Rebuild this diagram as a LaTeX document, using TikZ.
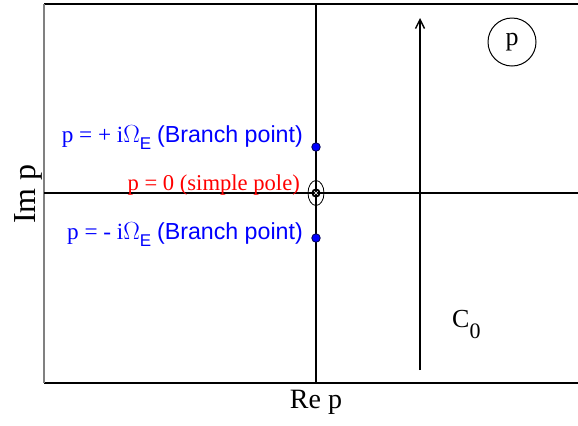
\documentclass[tikz,border=0pt]{standalone}
\usepackage{fontspec}
\setmainfont{Liberation Serif}
\newfontfamily\arialf{Liberation Sans}
\usetikzlibrary{arrows.meta,shapes.geometric,calc}
\newcommand{\subE}{\raisebox{-7bp}{\fontsize{17bp}{18bp}\selectfont\arialf E}}
\tikzset{
  axisline/.style={line width=1.3bp, black},
  framegray/.style={line width=2bp, gray},
  bluelbl/.style={text=blue, inner sep=0pt, anchor=base east, font=\fontsize{23.2bp}{26bp}\selectfont},
  redlbl/.style={text=red, inner sep=0pt, anchor=base east, font=\fontsize{22.6bp}{26bp}\selectfont},
  axislbl/.style={inner sep=0pt, font=\fontsize{28bp}{32bp}\selectfont},
  bpt/.style={circle, fill=blue, draw=black!70!blue, line width=0.8bp, minimum size=8.5bp, inner sep=0pt},
}
\begin{document}
\begin{tikzpicture}[x=1bp, y=-1bp]
\useasboundingbox (0,0) rectangle (578,425);
% frame
\coordinate (tl) at (44,4);
\coordinate (bl) at (44,383);
\coordinate (tr) at (578,4);
\coordinate (br) at (578,383);
\draw[axisline] (tl) -- (tr);
\draw[axisline] (bl) -- (br);
\draw[framegray] (tl) -- (bl);
% axes
\coordinate (hl) at (44,193);
\coordinate (hr) at (578,193);
\coordinate (vt) at (316,4);
\coordinate (vb) at (316,383);
\draw[axisline] (hl) -- (hr);
\draw[axisline] (vt) -- (vb);
% contour C0
\coordinate (cs) at (420,370);
\coordinate (ce) at (420,18);
\draw[line width=1.6bp, -{Straight Barb[length=9bp,width=9bp,line width=1.4bp]}] (cs) -- (ce);
\node[inner sep=0pt, anchor=base west, font=\fontsize{26bp}{30bp}\selectfont] (c0) at (452,327) {C\raisebox{-11bp}{\fontsize{22bp}{24bp}\selectfont 0}};
% p circle
\node[circle, draw, line width=1bp, minimum size=48bp, inner sep=0pt, font=\fontsize{26bp}{30bp}\selectfont] (pc) at (512,42) {p};
% branch points
\node[bpt] (bp1) at (316,147) {};
\node[bpt] (bp2) at (316,238) {};
% pole
\node[ellipse, draw, line width=0.8bp, minimum width=16bp, minimum height=25bp, inner sep=0pt] (pole) at (316,193) {};
\fill[black] (pole.center) circle (4.6bp);
\draw[white, line width=0.6bp] ($(pole.center)+(-2,-2)$) -- ($(pole.center)+(2,2)$);
\draw[white, line width=0.6bp] ($(pole.center)+(-2,2)$) -- ($(pole.center)+(2,-2)$);
% labels
\node[bluelbl] (l1) at (303,142) {p = + i$\Omega$\subE\ {\arialf (Branch point)}};
\node[redlbl] (l0) at (300,190) {p = 0 (simple pole)};
\node[bluelbl] (l2) at (303,239) {p = - i$\Omega$\subE\ {\arialf (Branch point)}};
\node[axislbl, font=\fontsize{32bp}{34bp}\selectfont] (im) at (28,194) [rotate=90] {Im p};
\node[axislbl] (re) at (316,402) {Re p};
\end{tikzpicture}
\end{document}
